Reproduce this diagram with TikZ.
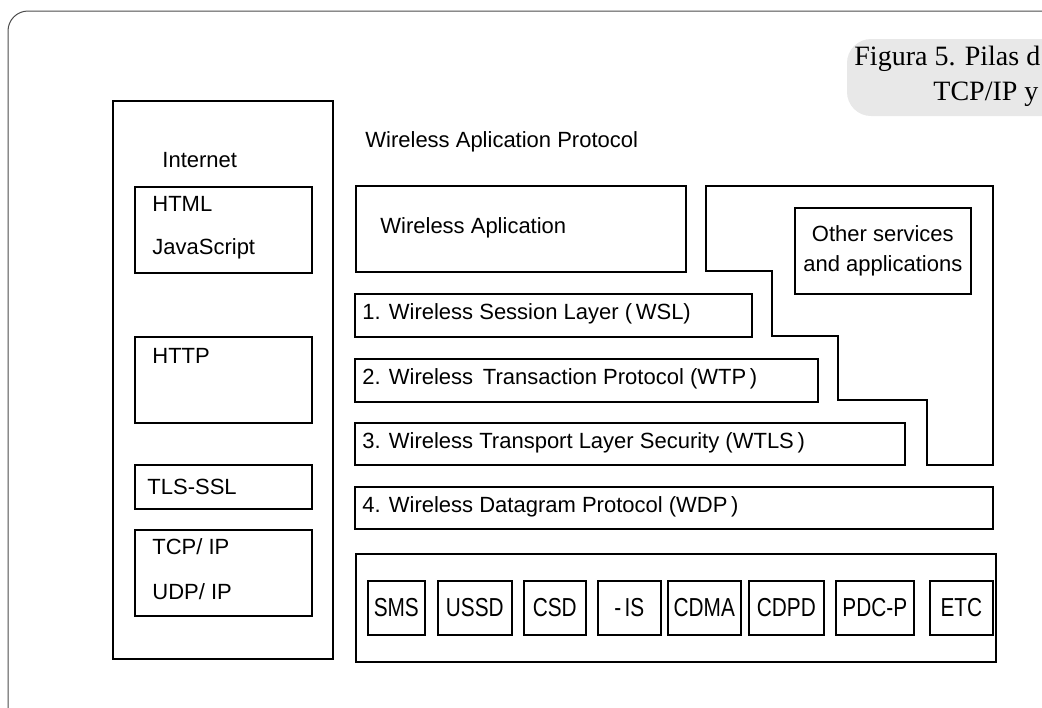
\documentclass[tikz,border=0pt]{standalone}
\usepackage{fontspec}
\setmainfont{Liberation Sans}
\newfontfamily\capfont{Liberation Serif}
\usetikzlibrary{positioning}
\tikzset{
  stackbox/.style={draw, line width=0.8pt, anchor=north west, inner sep=0pt},
  stacktxt/.style={anchor=west, inner sep=0pt, font=\fontsize{11}{13}\selectfont},
  bearertxt/.style={inner sep=0pt, font=\fontsize{13}{15}\selectfont},
  captxt/.style={anchor=base west, inner sep=0pt, font=\capfont\fontsize{14}{17}\selectfont},
}
% box from its corners, in pixel units
\newcommand{\pbox}[5]{\node[stackbox, minimum width={(#4-#2)*0.5pt}, minimum height={(#5-#3)*0.5pt}] (#1) at (#2,#3) {};}
\newcommand{\narrow}[1]{\scalebox{0.8}[1]{#1}}

\begin{document}
\begin{tikzpicture}[x=0.5pt,y=-0.5pt]
\useasboundingbox (0,0) rectangle (1042,707);
\clip (0,0) rectangle (1042,707);
%frame and caption
\draw[black!70, line width=0.5pt, rounded corners=10] (8,800) -- (8,11) -- (1100,11);
\fill[black!9, rounded corners=12] (847,39) rectangle (1100,116);
\node[captxt] (cap1) at (854,65) {Figura 5. Pilas d};
\node[captxt] (cap2) at (933,100) {TCP/IP y};
%internet stack
\pbox{inet}{112}{100}{332}{658}
\node[stacktxt] (inettxt) at (162,160) {Internet};
\pbox{html}{134}{186}{311}{272}
\node[stacktxt] (htmltxt) at (152,204) {HTML};
\node[stacktxt] (jstxt) at (152,249) {JavaScript};
\pbox{http}{134}{336}{311}{422}
\node[stacktxt] (httptxt) at (152,356) {HTTP};
\pbox{tls}{134}{464}{311}{508}
\node[stacktxt] (tlstxt) at (147,487) {TLS-SSL};
\pbox{tcp}{134}{529}{311}{615}
\node[stacktxt] (tcptxt) at (152,547) {TCP/ IP};
\node[stacktxt] (udptxt) at (152,592) {UDP/ IP};
%wap stack
\node[stacktxt] (waptxt) at (365,142) {Wireless Aplication Protocol};
\pbox{wapp}{355}{185}{685}{271}
\node[stacktxt] (wapptxt) at (380,228) {Wireless Aplication};
\draw[line width=0.8pt] (706,186) -- (993,186) -- (993,465) -- (927,465) -- (927,400)
  -- (838,400) -- (838,336) -- (772,336) -- (772,271) -- (706,271) -- cycle;
\pbox{other}{794}{207}{970}{293}
\node[align=center, inner sep=0pt, font=\fontsize{11}{15}\selectfont] (othertxt) at (other.center) {Other services\\and applications};
\pbox{wsl}{354}{293}{751}{336}
\node[stacktxt] (wsltxt) at (362,314) {1. Wireless Session Layer (\,WSL)};
\pbox{wtp}{354}{358}{817}{401}
\node[stacktxt] (wtptxt) at (362,379) {2. Wireless\, Transaction Protocol (WTP\,)};
\pbox{wtls}{354}{422}{904}{464}
\node[stacktxt] (wtlstxt) at (362,443) {3. Wireless Transport Layer Security (WTLS\,)};
\pbox{wdp}{354}{486}{992}{528}
\node[stacktxt] (wdptxt) at (362,507) {4. Wireless Datagram Protocol (WDP\,)};
%bearers
\pbox{bearer}{355}{553}{995}{661}
\foreach \name/\xa/\xb/\txt in {sms/367/424/SMS, ussd/437/511/USSD, csd/523/585/CSD,
    is/597/660/-\,IS, cdma/667/740/CDMA, cdpd/748/823/CDPD, pdcp/835/913/PDC-P, etc/929/992/ETC}{
  \pbox{\name}{\xa}{580}{\xb}{634}
  \node[bearertxt] (\name txt) at (\name.center) {\narrow{\txt}};
}
\end{tikzpicture}
\end{document}
